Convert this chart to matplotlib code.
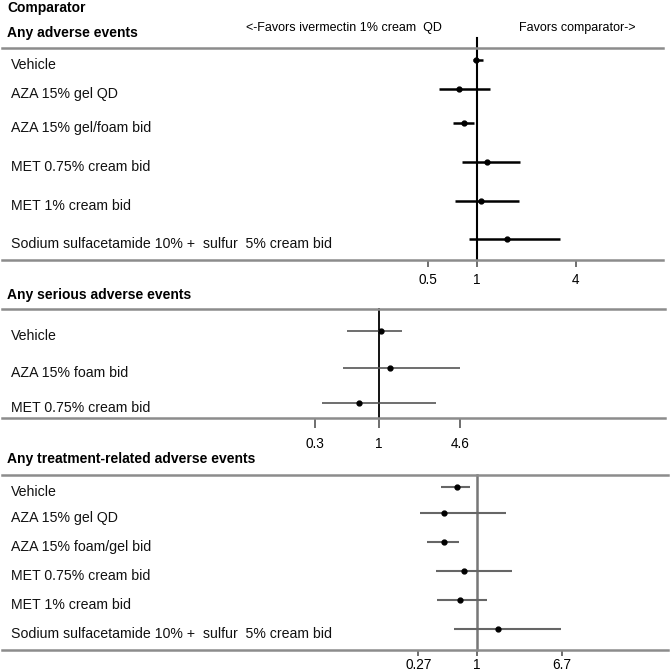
import numpy as np
import matplotlib.pyplot as plt

plt.rcParams['font.family'] = ['Liberation Sans', 'DejaVu Sans']

# Any adverse events
ae_labels = ['Vehicle', 'AZA 15% gel QD', 'AZA 15% gel/foam bid', 'MET 0.75% cream bid',
             'MET 1% cream bid', 'Sodium sulfacetamide 10% +  sulfur  5% cream bid']
ae_est = [0.99, 0.78, 0.83, 1.15, 1.06, 1.52]
ae_lo = [0.95, 0.59, 0.71, 0.81, 0.73, 0.89]
ae_hi = [1.09, 1.20, 0.96, 1.83, 1.80, 3.21]
ae_ticks = [0.5, 1, 4]

# Any serious adverse events
sae_labels = ['Vehicle', 'AZA 15% foam bid', 'MET 0.75% cream bid']
sae_est = [1.04, 1.23, 0.69]
sae_lo = [0.55, 0.51, 0.34]
sae_hi = [1.54, 4.6, 2.93]
sae_ticks = [0.3, 1, 4.6]

# Any treatment-related adverse events
tr_labels = ['Vehicle', 'AZA 15% gel QD', 'AZA 15% foam/gel bid', 'MET 0.75% cream bid',
             'MET 1% cream bid', 'Sodium sulfacetamide 10% +  sulfur  5% cream bid']
tr_est = [0.64, 0.48, 0.48, 0.75, 0.68, 1.60]
tr_lo = [0.45, 0.28, 0.33, 0.40, 0.41, 0.60]
tr_hi = [0.86, 1.91, 0.67, 2.18, 1.25, 6.5]
tr_ticks = [0.27, 1, 6.7]

W = H = 671
fig = plt.figure(figsize=(6.71, 6.71), dpi=100)


def panel(labels, est, lo, hi, ticks, tick_lbls, top, bottom, right, rows,
          px_ln, x_one, ci_col, ci_lw, ref_col, ref_lw, ref_top, tlen, tpad):
    left = 2
    ax = fig.add_axes([left / W, 1 - bottom / H, (right - left) / W, (bottom - top) / H])
    ax.set_xscale('log')
    ax.set_xlim(np.exp((left - x_one) / px_ln), np.exp((right - x_one) / px_ln))
    ax.set_ylim(bottom, top)
    for s in ['left', 'right']:
        ax.spines[s].set_visible(False)
    for s in ['top', 'bottom']:
        ax.spines[s].set_color('#8c8c8c')
        ax.spines[s].set_linewidth(1.8)
    ax.set_yticks([])
    ax.set_xticks(ticks)
    ax.set_xticklabels(tick_lbls)
    ax.xaxis.set_minor_locator(plt.NullLocator())
    ax.tick_params(axis='x', direction='out', length=tlen, width=1.2, color='#555555',
                   labelsize=9.8, pad=tpad)
    ax.plot([1, 1], [bottom, ref_top], color=ref_col, lw=ref_lw, clip_on=False, zorder=2)
    for lab, e, l, h, y in zip(labels, est, lo, hi, rows):
        ax.plot([l, h], [y, y], color=ci_col, lw=ci_lw, solid_capstyle='butt', zorder=3)
        ax.plot([e], [y], 'o', color='black', ms=3.5, zorder=4)
        ax.text(9 / (right - left), y + 5, lab, transform=ax.get_yaxis_transform(),
                ha='left', va='center', fontsize=10.2, color='#111111')
    return ax


panel(ae_labels, ae_est, ae_lo, ae_hi, ae_ticks, ['0.5', '1', '4'],
      48, 260, 663, [60, 89, 123, 162, 201, 239],
      71.1, 477, 'black', 1.8, 'black', 1.5, 38, 5, 4.5)
panel(sae_labels, sae_est, sae_lo, sae_hi, sae_ticks, ['0.3', '1', '4.6'],
      309, 418, 665, [331, 368, 403],
      53.0, 379, '#555555', 1.2, 'black', 1.3, 309, 7.2, 6.7)
panel(tr_labels, tr_est, tr_lo, tr_hi, tr_ticks, ['0.27', '1', '6.7'],
      475, 650, 668, [487, 513, 542, 571, 600, 629],
      44.8, 477, '#666666', 1.5, '#777777', 1.8, 475, 4, 2)

fig.text(7 / W, 1 - 8 / H, 'Comparator', fontsize=10, fontweight='bold', va='center', ha='left')
fig.text(7 / W, 1 - 33 / H, 'Any adverse events', fontsize=10, fontweight='bold', va='center', ha='left')
fig.text(344 / W, 1 - 28 / H, '<-Favors ivermectin 1% cream  QD', fontsize=9, va='center', ha='center')
fig.text(577 / W, 1 - 28 / H, 'Favors comparator->', fontsize=9, va='center', ha='center')
fig.text(7 / W, 1 - 295 / H, 'Any serious adverse events', fontsize=10, fontweight='bold', va='center', ha='left')
fig.text(7 / W, 1 - 459 / H, 'Any treatment-related adverse events', fontsize=10, fontweight='bold', va='center', ha='left')

fig.savefig('out.png', dpi=100)
